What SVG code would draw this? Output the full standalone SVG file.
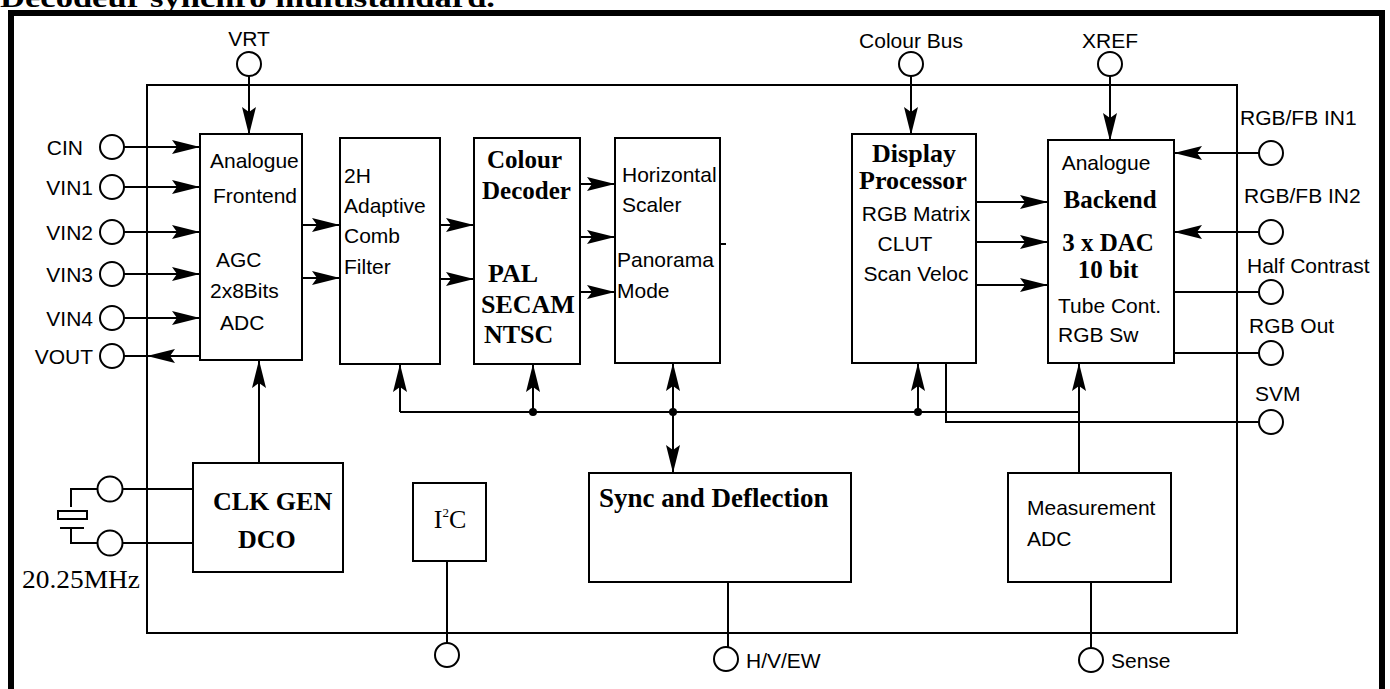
<svg xmlns="http://www.w3.org/2000/svg" width="1390" height="689" viewBox="0 0 1390 689">
<style>
.ln{fill:none;stroke:#000;stroke-width:2}
.bx{fill:#fff;stroke:#000;stroke-width:2}
.pin{fill:#fff;stroke:#000;stroke-width:2}
.s{font-family:"Liberation Sans",Arial,sans-serif;font-size:21px;fill:#000}
.b{font-family:"Liberation Serif","Times New Roman",serif;font-weight:bold;fill:#000}
.arr{marker-end:url(#ah)}
</style>
<defs>
<marker id="ah" markerUnits="userSpaceOnUse" markerWidth="28" markerHeight="14" viewBox="0 0 28 14" refX="27" refY="7" orient="auto-start-reverse">
<path d="M0,0 L28,7 L0,14 L5,7 Z" fill="#000"/>
</marker>
</defs>
<rect width="1390" height="689" fill="#fff"/>
<text x="0" y="7" class="b" font-size="28" textLength="495" lengthAdjust="spacingAndGlyphs">Décodeur synchro multistandard.</text>
<g id="frame" fill="#000">
<rect x="8" y="10" width="6" height="680"/>
<rect x="8" y="10" width="1377" height="6"/>
<rect x="1379" y="10" width="6" height="680"/>
</g>
<g id="chip"><rect class="ln" x="147" y="85" width="1090" height="548"/></g>

<g id="connectors">
<path class="ln arr" d="M249,76 V134"/>
<path class="ln arr" d="M911,76 V134"/>
<path class="ln arr" d="M1110,76 V140"/>
<path class="ln arr" d="M124,147 H199"/>
<path class="ln arr" d="M124,187 H199"/>
<path class="ln arr" d="M124,232 H199"/>
<path class="ln arr" d="M124,274 H199"/>
<path class="ln arr" d="M124,318 H199"/>
<path class="ln arr" d="M200,356 H148"/>
<path class="ln" d="M148,356 H124"/>
<path class="ln arr" d="M302,225 H339"/>
<path class="ln arr" d="M302,278 H339"/>
<path class="ln arr" d="M440,225 H473"/>
<path class="ln arr" d="M440,279 H473"/>
<path class="ln arr" d="M580,184 H614"/>
<path class="ln arr" d="M580,237 H614"/>
<path class="ln arr" d="M580,292 H614"/>
<path class="ln" d="M720,244 H726"/>
<path class="ln arr" d="M976,202 H1047"/>
<path class="ln arr" d="M976,242 H1047"/>
<path class="ln arr" d="M976,285 H1047"/>
<path class="ln arr" d="M1259,153 H1175"/>
<path class="ln arr" d="M1259,232 H1175"/>
<path class="ln" d="M1174,292 H1259"/>
<path class="ln" d="M1174,353 H1259"/>
<path class="ln" d="M946,363 V422 H1259"/>
<path class="ln arr" d="M259,463 V361"/>
<path class="ln" d="M400,412 H1079"/>
<path class="ln arr" d="M400,412 V365"/>
<path class="ln arr" d="M533,412 V365"/>
<path class="ln arr" d="M673,412 V364"/>
<path class="ln arr" d="M673,412 V472"/>
<path class="ln arr" d="M918,412 V364"/>
<path class="ln arr" d="M1079,473 V364"/>
<circle cx="533" cy="412" r="4" fill="#000"/>
<circle cx="673" cy="412" r="4" fill="#000"/>
<circle cx="918" cy="412" r="4" fill="#000"/>
<path class="ln" d="M122,489 H193"/>
<path class="ln" d="M122,543 H193"/>
<path class="ln" d="M98,489 H71 V507"/>
<rect class="ln" x="58" y="511" width="29" height="8"/>
<path class="ln" d="M60,528 H84"/>
<path class="ln" d="M71,528 V543 H98"/>
<path class="ln" d="M447,561 V643"/>
<path class="ln" d="M728,582 V647"/>
<path class="ln" d="M1091,582 V648"/>
</g>

<g id="pins">
<circle class="pin" cx="249" cy="64" r="12"/>
<text class="s" x="249" y="46" text-anchor="middle">VRT</text>
<circle class="pin" cx="911" cy="64" r="12"/>
<text class="s" x="911" y="48" text-anchor="middle">Colour Bus</text>
<circle class="pin" cx="1110" cy="64" r="12"/>
<text class="s" x="1110" y="48" text-anchor="middle">XREF</text>
<circle class="pin" cx="112" cy="147" r="12"/>
<text class="s" x="83" y="155" text-anchor="end">CIN</text>
<circle class="pin" cx="112" cy="187" r="12"/>
<text class="s" x="93" y="195" text-anchor="end">VIN1</text>
<circle class="pin" cx="112" cy="232" r="12"/>
<text class="s" x="93" y="240" text-anchor="end">VIN2</text>
<circle class="pin" cx="112" cy="274" r="12"/>
<text class="s" x="93" y="282" text-anchor="end">VIN3</text>
<circle class="pin" cx="112" cy="318" r="12"/>
<text class="s" x="93" y="326" text-anchor="end">VIN4</text>
<circle class="pin" cx="112" cy="356" r="12"/>
<text class="s" x="93" y="364" text-anchor="end">VOUT</text>
<circle class="pin" cx="1271" cy="153" r="12"/>
<text class="s" x="1240" y="125">RGB/FB IN1</text>
<circle class="pin" cx="1271" cy="232" r="12"/>
<text class="s" x="1244" y="203">RGB/FB IN2</text>
<circle class="pin" cx="1271" cy="292" r="12"/>
<text class="s" x="1247" y="273">Half Contrast</text>
<circle class="pin" cx="1271" cy="353" r="12"/>
<text class="s" x="1249" y="333">RGB Out</text>
<circle class="pin" cx="1271" cy="422" r="12"/>
<text class="s" x="1255" y="401">SVM</text>
<circle class="pin" cx="110" cy="489" r="12.5"/>
<circle class="pin" cx="110" cy="543" r="12.5"/>
<text x="22" y="588" font-family="'Liberation Serif','Times New Roman',serif" font-size="26" textLength="118" lengthAdjust="spacingAndGlyphs">20.25MHz</text>
<circle class="pin" cx="447" cy="655" r="12"/>
<circle class="pin" cx="726" cy="659" r="12"/>
<text class="s" x="746" y="668">H/V/EW</text>
<circle class="pin" cx="1091" cy="660" r="12"/>
<text class="s" x="1111" y="668">Sense</text>
</g>

<g id="frontend">
<rect class="bx" x="200" y="134" width="102" height="226"/>
<text class="s" x="210" y="168">Analogue</text>
<text class="s" x="213" y="203">Frontend</text>
<text class="s" x="216" y="267">AGC</text>
<text class="s" x="210" y="298">2x8Bits</text>
<text class="s" x="220" y="330">ADC</text>
</g>
<g id="comb">
<rect class="bx" x="340" y="138" width="100" height="226"/>
<text class="s" x="344" y="183">2H</text>
<text class="s" x="344" y="213">Adaptive</text>
<text class="s" x="344" y="243">Comb</text>
<text class="s" x="344" y="274">Filter</text>
</g>
<g id="decoder">
<rect class="bx" x="474" y="138" width="106" height="226"/>
<text class="b" font-size="25" x="487" y="168">Colour</text>
<text class="b" font-size="25" x="482" y="199">Decoder</text>
<text class="b" font-size="26" x="488" y="282">PAL</text>
<text class="b" font-size="26" x="481" y="313">SECAM</text>
<text class="b" font-size="26" x="484" y="343">NTSC</text>
</g>
<g id="scaler">
<rect class="bx" x="615" y="138" width="105" height="225"/>
<text class="s" x="622" y="182">Horizontal</text>
<text class="s" x="622" y="212">Scaler</text>
<text class="s" x="617" y="267">Panorama</text>
<text class="s" x="617" y="298">Mode</text>
</g>
<g id="display">
<rect class="bx" x="852" y="134" width="124" height="229"/>
<text class="b" font-size="26" x="914" y="162" text-anchor="middle">Display</text>
<text class="b" font-size="26" x="913" y="189" text-anchor="middle">Processor</text>
<text class="s" x="916" y="221" text-anchor="middle">RGB Matrix</text>
<text class="s" x="905" y="251" text-anchor="middle">CLUT</text>
<text class="s" x="916" y="281" text-anchor="middle">Scan Veloc</text>
</g>
<g id="backend">
<rect class="bx" x="1048" y="140" width="126" height="223"/>
<text class="s" x="1106" y="170" text-anchor="middle">Analogue</text>
<text class="b" font-size="25" x="1110" y="208" text-anchor="middle">Backend</text>
<text class="b" font-size="25" x="1108" y="251" text-anchor="middle">3 x DAC</text>
<text class="b" font-size="25" x="1108" y="278" text-anchor="middle">10 bit</text>
<text class="s" x="1058" y="313">Tube Cont.</text>
<text class="s" x="1058" y="342">RGB Sw</text>
</g>
<g id="clkgen">
<rect class="bx" x="193" y="463" width="150" height="109"/>
<text class="b" font-size="26" x="213" y="510">CLK GEN</text>
<text class="b" font-size="26" x="238" y="548">DCO</text>
</g>
<g id="i2c">
<rect class="bx" x="413" y="483" width="73" height="78"/>
<text x="450" y="528" text-anchor="middle" font-family="'Liberation Serif','Times New Roman',serif" font-size="26">I<tspan font-size="13" dy="-11">2</tspan><tspan dy="11">C</tspan></text>
</g>
<g id="sync">
<rect class="bx" x="589" y="473" width="262" height="109"/>
<text class="b" font-size="27" x="599" y="507">Sync and Deflection</text>
</g>
<g id="measure">
<rect class="bx" x="1008" y="473" width="163" height="109"/>
<text class="s" x="1027" y="515">Measurement</text>
<text class="s" x="1027" y="546">ADC</text>
</g>
</svg>
